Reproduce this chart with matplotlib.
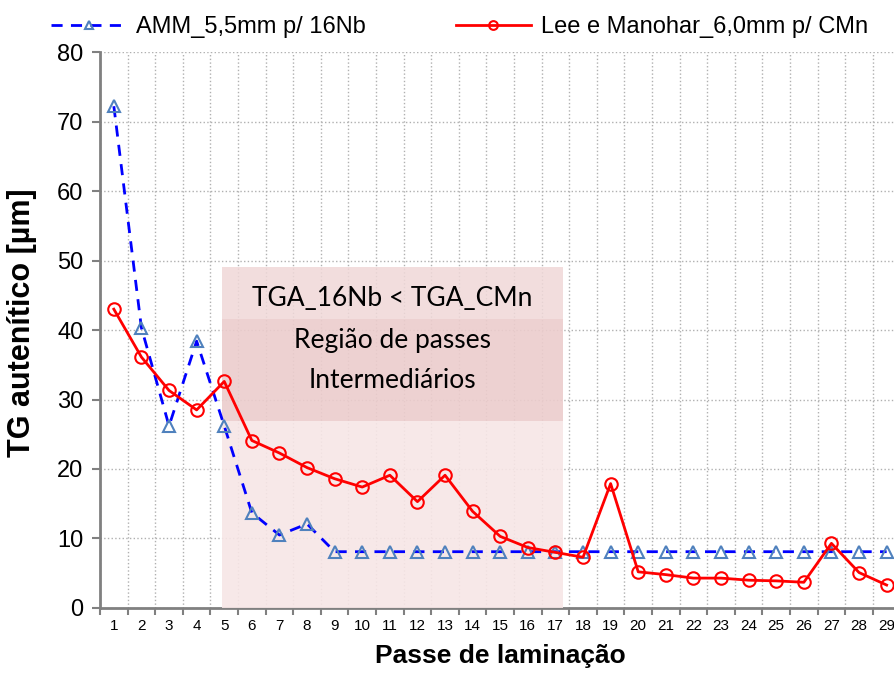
import matplotlib
matplotlib.use("Agg")
import matplotlib.pyplot as plt
import numpy as np

# pass number and austenite grain size (um) for each rolling pass
passes = list(range(1, 30))
amm_16nb = [72.2, 40.3, 26.2, 38.4, 26.2, 13.7, 10.5, 12.1] + [8.1] * 21
lee_cmn = [43.0, 36.1, 31.3, 28.5, 32.6, 24.1, 22.3, 20.2, 18.6, 17.4,
           19.1, 15.3, 19.1, 13.9, 10.3, 8.7, 8.0, 7.3, 17.9, 5.2,
           4.8, 4.3, 4.3, 4.0, 3.9, 3.7, 9.3, 5.1, 3.3]

# intermediate-pass region (in pass units / um)
region_x = (4.92, 17.28)
region_top = 49.1
region_text_band = (26.9, 41.6)

plt.rcParams['font.family'] = ['Liberation Sans', 'DejaVu Sans']

fig = plt.figure(figsize=(8.94, 6.73), dpi=100)
ax = fig.add_axes([0.1119, 0.0966, 0.8953, 0.8261])

ax.plot(passes, amm_16nb, color='#0000ff', ls=(0, (4, 3)), lw=2,
        marker='^', ms=8, mfc='none', mec='#4f81bd', mew=1.5,
        label='AMM_5,5mm p/ 16Nb', zorder=4)
ax.plot(passes, lee_cmn, color='#ff0000', ls='-', lw=2,
        marker='o', ms=9, mfc='none', mec='#ff0000', mew=1.5,
        label='Lee e Manohar_6,0mm p/ CMn', zorder=5)

# shaded region with its label box
x0, x1 = region_x
ax.fill_between([x0, x1], 0, region_text_band[0], color='#f7e6e6', alpha=0.9,
                lw=0, zorder=2.6)
ax.fill_between([x0, x1], region_text_band[0], region_top, color='#f0d8d8',
                alpha=0.85, lw=0, zorder=2.6)
ax.fill_between([x0, x1], region_text_band[0], region_text_band[1],
                color='#e6bcbc', alpha=0.35, lw=0, zorder=2.7)
xm = (x0 + x1) / 2
ax.text(xm, 44.5, 'TGA_16Nb < TGA_CMn', ha='center', va='center',
        fontsize=19, family=['Lato', 'DejaVu Sans'], zorder=3)
ax.text(xm, 38.5, 'Região de passes', ha='center', va='center',
        fontsize=19, family=['Lato', 'DejaVu Sans'], zorder=3)
ax.text(xm, 32.8, 'Intermediários', ha='center', va='center',
        fontsize=19, family=['Lato', 'DejaVu Sans'], zorder=3)

ax.set_xlim(0.5, 29.5)
ax.set_ylim(0, 80)
ax.set_yticks(np.arange(0, 81, 10))
ax.set_xticks(passes)
ax.set_xticks(np.arange(0.5, 30, 1), minor=True)
ax.tick_params(axis='x', which='major', length=0, labelsize=11, pad=8)
ax.tick_params(axis='x', which='minor', length=5, color='#808080', width=1.5)
ax.tick_params(axis='y', length=6, color='#808080', width=1.5, labelsize=17, pad=6)

ax.grid(True, which='minor', axis='x', color='#b0b0b0', ls=':', lw=1)
ax.grid(True, which='major', axis='y', color='#b0b0b0', ls=':', lw=1)
ax.set_axisbelow(True)

for s in ['top', 'right']:
    ax.spines[s].set_visible(False)
for s in ['left', 'bottom']:
    ax.spines[s].set_color('#808080')
    ax.spines[s].set_linewidth(2)
    ax.spines[s].set_zorder(2)

ax.set_ylabel('TG autenítico [µm]', fontsize=22, fontweight='bold')
ax.yaxis.set_label_coords(-0.079, 0.514)
ax.set_xlabel('Passe de laminação', fontsize=19, fontweight='bold', labelpad=8)

fig.legend(loc='center', bbox_to_anchor=(0.514, 0.96), ncol=2, frameon=False,
           fontsize=17, handlelength=3.2, handletextpad=0.4, columnspacing=3.8,
           markerscale=0.7)

fig.savefig('out.png', dpi=100)
